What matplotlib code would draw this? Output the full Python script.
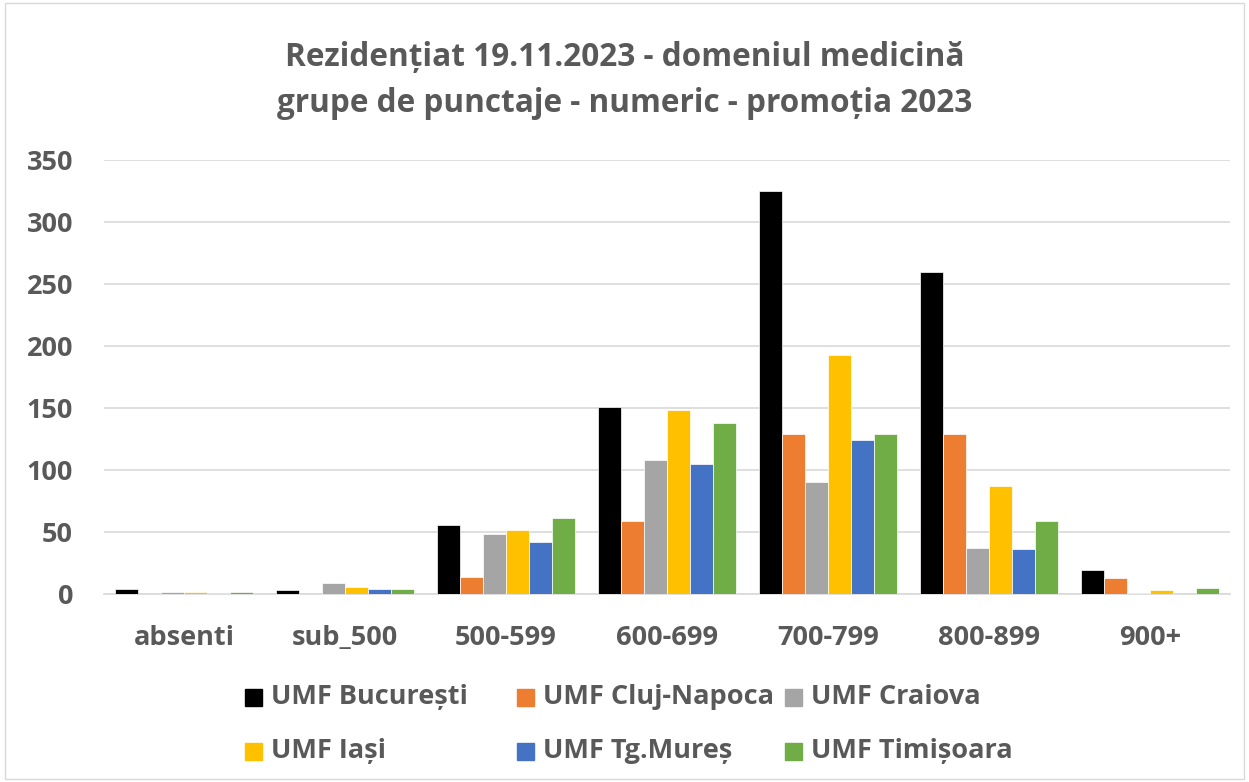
import numpy as np
import matplotlib
matplotlib.use('Agg')
from matplotlib import pyplot as plt
from matplotlib.patches import Rectangle

categories = ['absenti', 'sub_500', '500-599', '600-699', '700-799', '800-899', '900+']
series_names = ['UMF București', 'UMF Cluj-Napoca', 'UMF Craiova',
                'UMF Iași', 'UMF Tg.Mureș', 'UMF Timișoara']
colors = ['#000000', '#ed7d31', '#a5a5a5', '#ffc000', '#4472c4', '#70ad47']

bucuresti = [4, 3, 56, 151, 325, 260, 19]
cluj = [0, 0, 14, 59, 129, 129, 13]
craiova = [2, 9, 48, 108, 90, 37, 1]
iasi = [2, 6, 52, 148, 193, 87, 3]
mures = [1, 4, 42, 105, 124, 36, 0]
timisoara = [2, 4, 61, 138, 129, 59, 5]
values = [bucuresti, cluj, craiova, iasi, mures, timisoara]

plt.rcParams['font.family'] = ['Open Sans', 'DejaVu Sans']
text_color = '#595959'

W, H = 1249, 782
fig = plt.figure(figsize=(W / 100, H / 100), dpi=100)
ax = fig.add_axes([0.083, 0.2404, 0.902, 0.555])

x = np.arange(len(categories))
bw = 0.143
for i, (name, vals) in enumerate(zip(series_names, values)):
  ax.bar(x + (i - 2.5) * bw, vals, bw, color=colors[i], label=name,
         edgecolor='white', linewidth=0.5, zorder=3)

ax.set_ylim(0, 350)
ax.set_xlim(-0.5, len(categories) - 0.5)
ax.set_yticks(range(0, 351, 50))
ax.grid(axis='y', color='#d9d9d9', linewidth=1.2, zorder=0)
for s in ['top', 'right', 'left']:
  ax.spines[s].set_visible(False)
ax.spines['bottom'].set_color('#d9d9d9')
ax.spines['bottom'].set_linewidth(1.2)
ax.tick_params(length=0, labelsize=19.5, labelcolor=text_color)
ax.tick_params(axis='y', pad=22)
ax.tick_params(axis='x', pad=22)
ax.set_xticks(x)
ax.set_xticklabels(categories, fontweight='bold')
for lab in ax.get_yticklabels():
  lab.set_fontweight('bold')

fig.text(0.5, 0.927, 'Rezidențiat 19.11.2023 - domeniul medicină',
         ha='center', va='center', fontsize=22.7, fontweight='bold', color=text_color)
fig.text(0.5, 0.868, 'grupe de punctaje - numeric - promoția 2023',
         ha='center', va='center', fontsize=22.7, fontweight='bold', color=text_color)

# legend laid out like Excel: equal-width columns, two rows
col_x = [245, 517, 785]
row_y = [697, 751]
sq = 17
for i, name in enumerate(series_names):
  cx = col_x[i % 3]
  cy = row_y[i // 3]
  fig.add_artist(Rectangle((cx / W, 1 - (cy + sq / 2) / H), sq / W, sq / H,
                           transform=fig.transFigure, color=colors[i]))
  fig.text((cx + 26) / W, 1 - cy / H, name, ha='left', va='center',
           fontsize=19.5, fontweight='bold', color=text_color)

fig.add_artist(Rectangle((0.004, 0.004), 0.992, 0.992, transform=fig.transFigure,
                         fill=False, edgecolor='#d9d9d9', linewidth=1))

plt.savefig('out.png', dpi=100)
